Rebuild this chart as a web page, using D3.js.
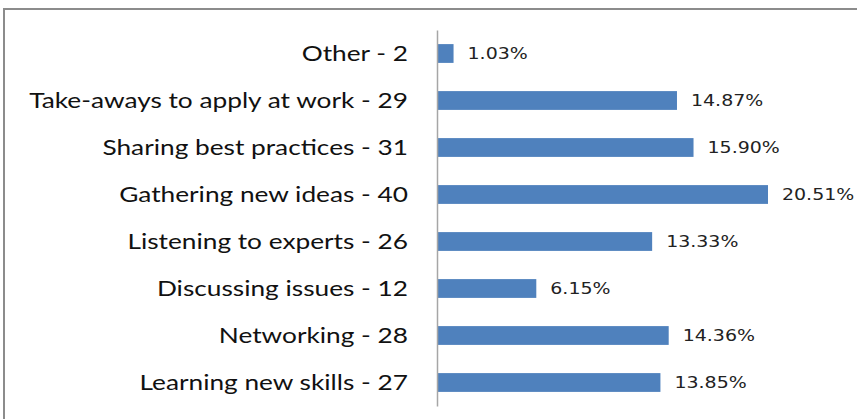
<!DOCTYPE html>
<html>
<head>
<meta charset="utf-8">
<script src="https://cdn.jsdelivr.net/npm/d3@7"></script>
<style>
  body { margin: 0; background: #fff; }
  #chart svg { display: block; }
</style>
</head>
<body>
<div id="chart"></div>
<script>
(function () {

  // categories top to bottom, with counts and share
  const categories = ['Other', 'Take-aways to apply at work', 'Sharing best practices',
    'Gathering new ideas', 'Listening to experts', 'Discussing issues',
    'Networking', 'Learning new skills']
  const counts = [2, 29, 31, 40, 26, 12, 28, 27]
  const percents = ['1.03%', '14.87%', '15.90%', '20.51%', '13.33%', '6.15%', '14.36%', '13.85%']

  const datapoints = categories.map((c, i) => ({ name: c, count: counts[i], pct: percents[i] }))

  const W = 857, H = 419
  const margin = { top: 30, right: 30, bottom: 13, left: 437 }

  const root = d3.select('#chart').append('svg')
      .attr('width', W)
      .attr('height', H)

  // outer frame, runs off the right and bottom edges
  root.append('rect')
    .attr('x', 4)
    .attr('y', 9)
    .attr('width', W + 10)
    .attr('height', H + 10)
    .attr('fill', 'none')
    .attr('stroke', '#8c8c8c')
    .attr('stroke-width', 2)

  const svg = root.append('g')
    .attr('transform', 'translate(' + margin.left + ',' + margin.top + ')')

  const xPositionScale = d3.scaleLinear()
    .domain([0, 40])
    .range([0, 331])

  const yPositionScale = d3.scaleBand()
    .domain(categories)
    .range([0, 376])
    .paddingInner(0.6)
    .paddingOuter(0.3)

  const mid = d => yPositionScale(d.name) + yPositionScale.bandwidth() / 2

  svg.selectAll('rect.bar')
    .data(datapoints)
    .join('rect')
    .attr('class', 'bar')
    .attr('x', 0)
    .attr('y', d => yPositionScale(d.name))
    .attr('width', d => xPositionScale(d.count))
    .attr('height', yPositionScale.bandwidth())
    .attr('fill', '#4f81bd')

  // the original is stretched sideways, so squash/stretch text with scale()
  svg.selectAll('text.val')
    .data(datapoints)
    .join('text')
    .attr('class', 'val')
    .attr('transform', d => 'translate(' + (xPositionScale(d.count) + 14) + ',' + mid(d) + ') scale(1.15,1)')
    .attr('dy', '0.36em')
    .attr('font-family', 'DejaVu Sans, Verdana, sans-serif')
    .attr('font-size', 16.5)
    .attr('fill', '#222')
    .text(d => d.pct)

  svg.selectAll('text.cat')
    .data(datapoints)
    .join('text')
    .attr('class', 'cat')
    .attr('transform', d => 'translate(-29,' + mid(d) + ') scale(1.25,1)')
    .attr('dy', '0.35em')
    .attr('text-anchor', 'end')
    .attr('font-family', 'Lato, sans-serif')
    .attr('font-size', 21)
    .attr('fill', '#111')
    .text(d => d.name + ' - ' + d.count)

  // category axis line, no ticks
  const yAxis = d3.axisLeft(yPositionScale).tickSize(0).tickFormat('')
  svg.append('g')
    .attr('class', 'axis y-axis')
    .call(yAxis)
    .call(g => g.select('.domain').attr('stroke', '#a6a6a6').attr('stroke-width', 1.5))

})();
</script>
</body>
</html>
